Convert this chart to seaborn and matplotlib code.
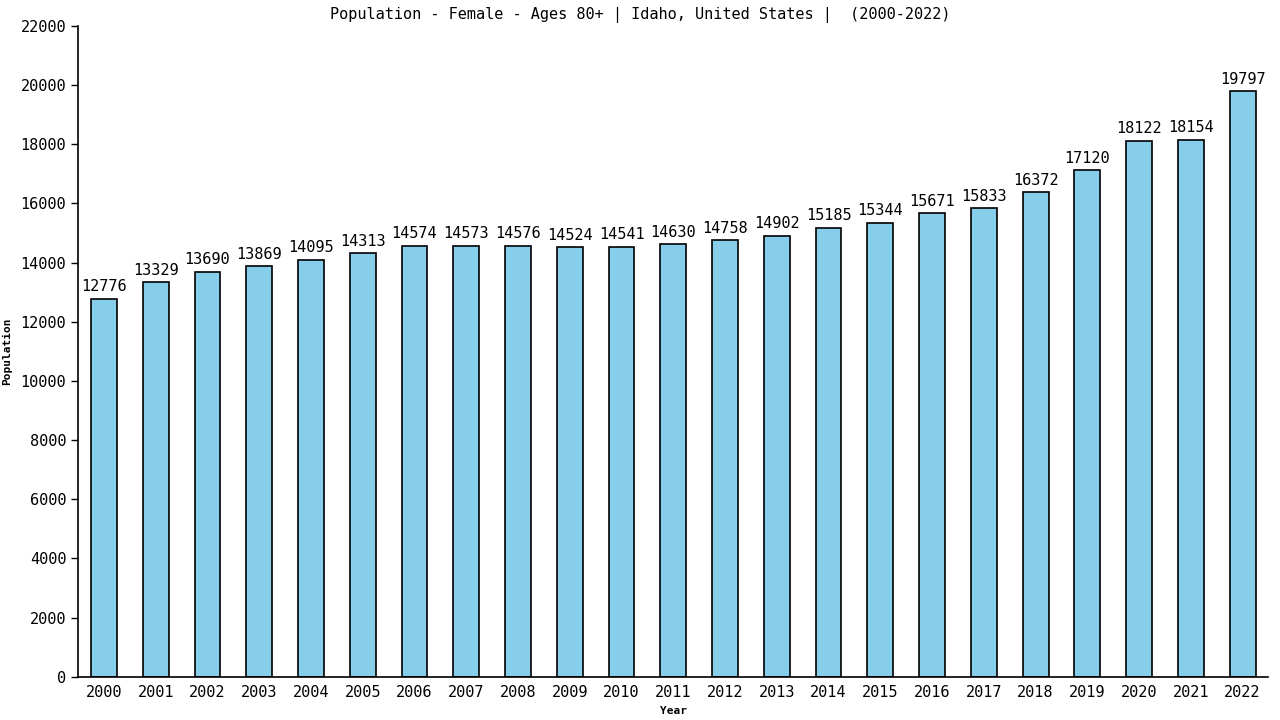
import pandas as pd
import matplotlib
matplotlib.use("Agg")
import matplotlib.pyplot as plt
import seaborn as sns

# Data
years = [str(y) for y in range(2000, 2023)]
population = [12776, 13329, 13690, 13869, 14095, 14313, 14574, 14573, 14576, 14524,
              14541, 14630, 14758, 14902, 15185, 15344, 15671, 15833, 16372, 17120,
              18122, 18154, 19797]
y_ticks = list(range(0, 22001, 2000))

df = pd.DataFrame({"Year": years, "Population": population})

sns.set_style("white")
plt.rcParams["font.family"] = ["DejaVu Sans Mono", "DejaVu Sans"]
plt.rcParams["text.color"] = "black"
plt.rcParams["xtick.color"] = "black"
plt.rcParams["ytick.color"] = "black"
plt.rcParams["axes.labelcolor"] = "black"

fig = plt.figure(figsize=(12.8, 7.2), dpi=100)
ax = fig.add_axes([0.061, 0.06, 0.93, 0.904])

sns.barplot(x="Year", y="Population", data=df, color="#87CEEB",
            edgecolor="black", linewidth=1.2, width=0.5, saturation=1, ax=ax)

# Value labels above bars
for i, v in enumerate(population):
    ax.text(i, v + 150, f"{v}", ha="center", va="bottom", fontsize=11, color="black")

ax.set_xlim(-0.5, 22.5)
ax.set_ylim(0, 22000)
ax.set_yticks(y_ticks)
ax.set_yticklabels([str(t) for t in y_ticks], fontsize=11)
ax.tick_params(axis="x", labelsize=11, length=0, pad=6)
ax.tick_params(axis="y", length=5, width=1, direction="out", left=True, color="black")

for s in ["top", "right"]:
    ax.spines[s].set_visible(False)
for s in ["left", "bottom"]:
    ax.spines[s].set_color("black")
    ax.spines[s].set_linewidth(1.2)

ax.set_xlabel("Year", fontsize=8, fontweight="bold", labelpad=4)
ax.set_ylabel("Population", fontsize=8, fontweight="bold", labelpad=6)
fig.suptitle("Population - Female - Ages 80+ | Idaho, United States |  (2000-2022)",
             fontsize=11, y=0.99)

fig.savefig("out.png", dpi=100)
